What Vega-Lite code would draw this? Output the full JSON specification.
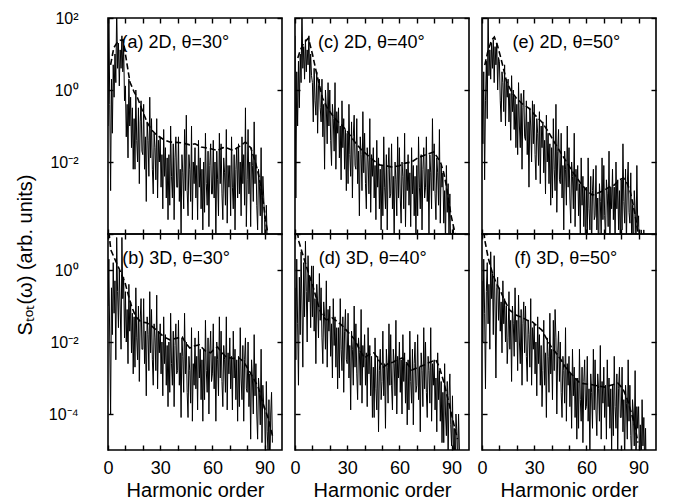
{
"$schema": "https://vega.github.io/schema/vega-lite/v6.json",
"padding": {"left": 15, "top": 9, "right": 5, "bottom": 20},
"title": {"text": "Sₜₒₜ(ω) (arb. units)", "orient": "left", "anchor": "middle", "fontSize": 20, "fontWeight": "normal", "font": "Liberation Sans", "color": "black", "offset": 12},
"datasets": {
"a": [{"x":0,"y":0.1},{"x":0.5,"y":200},{"x":1,"y":0.4},{"x":1.5,"y":1.6e-3},{"x":2,"y":2},{"x":2.5,"y":6.3e-2},{"x":3,"y":5},{"x":3.5,"y":0.63},{"x":4,"y":10},{"x":4.5,"y":1.6},
{"x":5,"y":200},{"x":5.5,"y":4},{"x":6,"y":20},{"x":6.5,"y":1.3},{"x":7,"y":13},{"x":7.5,"y":4},{"x":8,"y":32},{"x":8.5,"y":3.2},{"x":9,"y":16},{"x":9.5,"y":0.5},
{"x":10,"y":1.3},{"x":10.5,"y":5e-2},{"x":11,"y":0.4},{"x":11.5,"y":1.3e-2},{"x":12,"y":2},{"x":12.5,"y":0.1},{"x":13,"y":0.63},{"x":13.5,"y":2.5e-2},{"x":14,"y":0.32},{"x":14.5,"y":6.3e-3},
{"x":15,"y":0.16},{"x":15.5,"y":6.3e-3},{"x":16,"y":1},{"x":16.5,"y":4e-2},{"x":17,"y":1e-2},{"x":17.5,"y":0.32},{"x":18,"y":2.5e-3},{"x":18.5,"y":0.13},{"x":19,"y":0.5},{"x":19.5,"y":2e-2},
{"x":20,"y":1.6e-2},{"x":20.5,"y":0.4},{"x":21,"y":6.3e-3},{"x":21.5,"y":5e-2},{"x":22,"y":8e-4},{"x":22.5,"y":0.13},{"x":23,"y":4e-2},{"x":23.5,"y":4e-3},{"x":24,"y":0.63},{"x":24.5,"y":1.3e-2},
{"x":25,"y":0.16},{"x":25.5,"y":6.3e-3},{"x":26,"y":1.3e-3},{"x":26.5,"y":6.3e-2},{"x":27,"y":2.5e-2},{"x":27.5,"y":3.2e-3},{"x":28,"y":0.16},{"x":28.5,"y":1e-3},{"x":29,"y":4e-2},{"x":29.5,"y":1e-2},
{"x":30,"y":5e-2},{"x":30.5,"y":2e-3},{"x":31,"y":1.6e-2},{"x":31.5,"y":5e-4},{"x":32,"y":8e-2},{"x":32.5,"y":4e-3},{"x":33,"y":2.5e-2},{"x":33.5,"y":1e-3},{"x":34,"y":1.3e-2},{"x":34.5,"y":2.5e-4},
{"x":35,"y":1.6e-2},{"x":35.5,"y":6.3e-4},{"x":36,"y":0.1},{"x":36.5,"y":4e-3},{"x":37,"y":1e-3},{"x":37.5,"y":3.2e-2},{"x":38,"y":2.5e-4},{"x":38.5,"y":1.3e-2},{"x":39,"y":5e-2},{"x":39.5,"y":2e-3},
{"x":40,"y":2e-3},{"x":40.5,"y":5e-2},{"x":41,"y":8e-4},{"x":41.5,"y":6.3e-3},{"x":42,"y":1e-4},{"x":42.5,"y":1.6e-2},{"x":43,"y":5e-3},{"x":43.5,"y":5e-4},{"x":44,"y":8e-2},{"x":44.5,"y":1.6e-3},
{"x":45,"y":0.2},{"x":45.5,"y":1.6e-3},{"x":46,"y":3.2e-4},{"x":46.5,"y":1.6e-2},{"x":47,"y":6.3e-3},{"x":47.5,"y":8e-4},{"x":48,"y":0.1},{"x":48.5,"y":2.5e-4},{"x":49,"y":1e-2},{"x":49.5,"y":2.5e-3},
{"x":50,"y":2.5e-2},{"x":50.5,"y":1e-3},{"x":51,"y":8e-3},{"x":51.5,"y":2.5e-4},{"x":52,"y":4e-2},{"x":52.5,"y":2e-3},{"x":53,"y":1.3e-2},{"x":53.5,"y":5e-4},{"x":54,"y":6.3e-3},{"x":54.5,"y":1.3e-4},
{"x":55,"y":1e-2},{"x":55.5,"y":4e-4},{"x":56,"y":6.3e-2},{"x":56.5,"y":2.5e-3},{"x":57,"y":6.3e-4},{"x":57.5,"y":2e-2},{"x":58,"y":1.6e-4},{"x":58.5,"y":8e-3},{"x":59,"y":3.2e-2},{"x":59.5,"y":1.3e-3},
{"x":60,"y":1.3e-3},{"x":60.5,"y":4e-2},{"x":61,"y":1e-3},{"x":61.5,"y":1e-2},{"x":62,"y":6.3e-5},{"x":62.5,"y":2e-2},{"x":63,"y":3.2e-3},{"x":63.5,"y":3.2e-4},{"x":64,"y":6.3e-2},{"x":64.5,"y":2.5e-3},
{"x":65,"y":3.2e-2},{"x":65.5,"y":1.3e-3},{"x":66,"y":2.5e-4},{"x":66.5,"y":1.3e-2},{"x":67,"y":5e-3},{"x":67.5,"y":6.3e-4},{"x":68,"y":8e-2},{"x":68.5,"y":2e-4},{"x":69,"y":8e-3},{"x":69.5,"y":2e-3},
{"x":70,"y":8e-3},{"x":70.5,"y":3.2e-4},{"x":71,"y":5e-2},{"x":71.5,"y":2e-3},{"x":72,"y":5e-4},{"x":72.5,"y":1.6e-2},{"x":73,"y":1.3e-4},{"x":73.5,"y":6.3e-3},{"x":74,"y":2.5e-2},{"x":74.5,"y":1e-3},
{"x":75,"y":3.2e-2},{"x":75.5,"y":1.3e-3},{"x":76,"y":1e-2},{"x":76.5,"y":3.2e-4},{"x":77,"y":5e-2},{"x":77.5,"y":2.5e-3},{"x":78,"y":1.6e-2},{"x":78.5,"y":6.3e-4},{"x":79,"y":0.32},{"x":79.5,"y":1.6e-4},
{"x":80,"y":3.2e-3},{"x":80.5,"y":8e-2},{"x":81,"y":1.3e-3},{"x":81.5,"y":1e-2},{"x":82,"y":1.6e-4},{"x":82.5,"y":2.5e-2},{"x":83,"y":8e-3},{"x":83.5,"y":8e-4},{"x":84,"y":0.13},{"x":84.5,"y":2.5e-3},
{"x":85,"y":1.6e-2},{"x":85.5,"y":6.3e-4},{"x":86,"y":1.3e-4},{"x":86.5,"y":6.3e-3},{"x":87,"y":2.5e-3},{"x":87.5,"y":3.2e-4},{"x":88,"y":2.5e-2},{"x":88.5,"y":1e-4},{"x":89,"y":4e-3},{"x":89.5,"y":1e-3},
{"x":90,"y":2.5e-4},{"x":90.5,"y":1e-5},{"x":91,"y":6.3e-4},{"x":91.5,"y":6.3e-5},{"x":92,"y":1.6e-5},{"x":92.5,"y":5e-5},{"x":93,"y":4e-6},{"x":93.5,"y":3.2e-5},{"x":94,"y":6.3e-5},{"x":94.5,"y":1e-5}],
"b": [{"x":0,"y":0.1},{"x":0.5,"y":2},{"x":1,"y":1e-2},{"x":1.5,"y":1e-4},{"x":2,"y":0.32},{"x":2.5,"y":1.6e-2},{"x":3,"y":1.6},{"x":3.5,"y":6.3e-2},{"x":4,"y":0.5},{"x":4.5,"y":3.2e-3},
{"x":5,"y":8},{"x":5.5,"y":0.25},{"x":6,"y":2.5e-2},{"x":6.5,"y":1},{"x":7,"y":0.1},{"x":7.5,"y":6.3e-3},{"x":8,"y":8},{"x":8.5,"y":0.16},{"x":9,"y":0.63},{"x":9.5,"y":1.3e-2},
{"x":10,"y":0.25},{"x":10.5,"y":1e-2},{"x":11,"y":8e-2},{"x":11.5,"y":2.5e-3},{"x":12,"y":0.4},{"x":12.5,"y":2e-2},{"x":13,"y":0.13},{"x":13.5,"y":5e-3},{"x":14,"y":6.3e-2},{"x":14.5,"y":1.3e-3},
{"x":15,"y":5e-2},{"x":15.5,"y":2e-3},{"x":16,"y":0.32},{"x":16.5,"y":1.3e-2},{"x":17,"y":3.2e-3},{"x":17.5,"y":0.1},{"x":18,"y":8e-4},{"x":18.5,"y":4e-2},{"x":19,"y":0.16},{"x":19.5,"y":6.3e-3},
{"x":20,"y":6.3e-3},{"x":20.5,"y":0.16},{"x":21,"y":2.5e-3},{"x":21.5,"y":2e-2},{"x":22,"y":3.2e-4},{"x":22.5,"y":5e-2},{"x":23,"y":1.6e-2},{"x":23.5,"y":1.6e-3},{"x":24,"y":0.25},{"x":24.5,"y":5e-3},
{"x":25,"y":8e-2},{"x":25.5,"y":3.2e-3},{"x":26,"y":6.3e-4},{"x":26.5,"y":3.2e-2},{"x":27,"y":1.3e-2},{"x":27.5,"y":1.6e-3},{"x":28,"y":0.2},{"x":28.5,"y":5e-4},{"x":29,"y":2e-2},{"x":29.5,"y":5e-3},
{"x":30,"y":3.2e-2},{"x":30.5,"y":1.3e-3},{"x":31,"y":1e-2},{"x":31.5,"y":3.2e-4},{"x":32,"y":5e-2},{"x":32.5,"y":2.5e-3},{"x":33,"y":1.6e-2},{"x":33.5,"y":6.3e-4},{"x":34,"y":8e-3},{"x":34.5,"y":1.6e-4},
{"x":35,"y":1e-2},{"x":35.5,"y":4e-4},{"x":36,"y":6.3e-2},{"x":36.5,"y":2.5e-3},{"x":37,"y":6.3e-4},{"x":37.5,"y":2e-2},{"x":38,"y":1.6e-4},{"x":38.5,"y":8e-3},{"x":39,"y":3.2e-2},{"x":39.5,"y":1.3e-3},
{"x":40,"y":1.6e-3},{"x":40.5,"y":4e-2},{"x":41,"y":6.3e-4},{"x":41.5,"y":5e-3},{"x":42,"y":8e-5},{"x":42.5,"y":1.3e-2},{"x":43,"y":4e-3},{"x":43.5,"y":4e-4},{"x":44,"y":6.3e-2},{"x":44.5,"y":1.3e-3},
{"x":45,"y":1e-2},{"x":45.5,"y":4e-4},{"x":46,"y":8e-5},{"x":46.5,"y":4e-3},{"x":47,"y":1.6e-3},{"x":47.5,"y":2e-4},{"x":48,"y":2.5e-2},{"x":48.5,"y":6.3e-5},{"x":49,"y":2.5e-3},{"x":49.5,"y":6.3e-4},
{"x":50,"y":1.3e-2},{"x":50.5,"y":5e-4},{"x":51,"y":4e-3},{"x":51.5,"y":1.3e-4},{"x":52,"y":2e-2},{"x":52.5,"y":1e-3},{"x":53,"y":6.3e-3},{"x":53.5,"y":2.5e-4},{"x":54,"y":3.2e-3},{"x":54.5,"y":6.3e-5},
{"x":55,"y":6.3e-3},{"x":55.5,"y":2.5e-4},{"x":56,"y":4e-2},{"x":56.5,"y":1.6e-3},{"x":57,"y":4e-4},{"x":57.5,"y":1.3e-2},{"x":58,"y":1e-4},{"x":58.5,"y":5e-3},{"x":59,"y":2e-2},{"x":59.5,"y":8e-4},
{"x":60,"y":1.3e-3},{"x":60.5,"y":3.2e-2},{"x":61,"y":5e-4},{"x":61.5,"y":4e-3},{"x":62,"y":6.3e-5},{"x":62.5,"y":1e-2},{"x":63,"y":3.2e-3},{"x":63.5,"y":3.2e-4},{"x":64,"y":5e-2},{"x":64.5,"y":1e-3},
{"x":65,"y":2e-2},{"x":65.5,"y":8e-4},{"x":66,"y":1.6e-4},{"x":66.5,"y":8e-3},{"x":67,"y":3.2e-3},{"x":67.5,"y":4e-4},{"x":68,"y":5e-2},{"x":68.5,"y":1.3e-4},{"x":69,"y":5e-3},{"x":69.5,"y":1.3e-3},
{"x":70,"y":1.3e-2},{"x":70.5,"y":5e-4},{"x":71,"y":4e-3},{"x":71.5,"y":1.3e-4},{"x":72,"y":2e-2},{"x":72.5,"y":1e-3},{"x":73,"y":6.3e-3},{"x":73.5,"y":2.5e-4},{"x":74,"y":3.2e-3},{"x":74.5,"y":6.3e-5},
{"x":75,"y":4e-3},{"x":75.5,"y":1.6e-4},{"x":76,"y":2.5e-2},{"x":76.5,"y":1e-3},{"x":77,"y":2.5e-4},{"x":77.5,"y":8e-3},{"x":78,"y":6.3e-5},{"x":78.5,"y":3.2e-3},{"x":79,"y":1.3e-2},{"x":79.5,"y":5e-4},
{"x":80,"y":4e-4},{"x":80.5,"y":1e-2},{"x":81,"y":1.6e-4},{"x":81.5,"y":1.3e-3},{"x":82,"y":2e-5},{"x":82.5,"y":3.2e-3},{"x":83,"y":1e-3},{"x":83.5,"y":1e-4},{"x":84,"y":1.6e-2},{"x":84.5,"y":3.2e-4},
{"x":85,"y":2.5e-3},{"x":85.5,"y":1e-4},{"x":86,"y":2e-5},{"x":86.5,"y":1e-3},{"x":87,"y":4e-4},{"x":87.5,"y":5e-5},{"x":88,"y":6.3e-3},{"x":88.5,"y":1.6e-5},{"x":89,"y":6.3e-4},{"x":89.5,"y":1.6e-4},
{"x":90,"y":1.3e-4},{"x":90.5,"y":5e-6},{"x":91,"y":8e-4},{"x":91.5,"y":3.2e-5},{"x":92,"y":8e-6},{"x":92.5,"y":2.5e-4},{"x":93,"y":2e-6},{"x":93.5,"y":1e-4},{"x":94,"y":4e-4},{"x":94.5,"y":1.6e-5}],
"c": [{"x":0,"y":32},{"x":0.5,"y":1e-3},{"x":1,"y":3.2},{"x":1.5,"y":0.1},{"x":2,"y":6.3},{"x":2.5,"y":0.32},{"x":3,"y":10},{"x":3.5,"y":1.6},{"x":4,"y":200},{"x":4.5,"y":4},
{"x":5,"y":16},{"x":5.5,"y":2},{"x":6,"y":25},{"x":6.5,"y":3.2},{"x":7,"y":13},{"x":7.5,"y":5},{"x":8,"y":32},{"x":8.5,"y":1.6},{"x":9,"y":10},{"x":9.5,"y":2.5},
{"x":10,"y":1.6},{"x":10.5,"y":0.13},{"x":11,"y":4},{"x":11.5,"y":0.5},{"x":12,"y":0.2},{"x":12.5,"y":3.2},{"x":13,"y":6.3e-2},{"x":13.5,"y":1.3},{"x":14,"y":2},{"x":14.5,"y":0.32},
{"x":15,"y":0.13},{"x":15.5,"y":2},{"x":16,"y":5e-2},{"x":16.5,"y":0.4},{"x":17,"y":6.3e-3},{"x":17.5,"y":1},{"x":18,"y":0.32},{"x":18.5,"y":3.2e-2},{"x":19,"y":1.6},{"x":19.5,"y":0.1},
{"x":20,"y":1},{"x":20.5,"y":4e-2},{"x":21,"y":8e-3},{"x":21.5,"y":0.4},{"x":22,"y":0.16},{"x":22.5,"y":2e-2},{"x":23,"y":1.6},{"x":23.5,"y":6.3e-3},{"x":24,"y":0.25},{"x":24.5,"y":6.3e-2},
{"x":25,"y":0.32},{"x":25.5,"y":1.3e-2},{"x":26,"y":0.1},{"x":26.5,"y":3.2e-3},{"x":27,"y":0.5},{"x":27.5,"y":2.5e-2},{"x":28,"y":0.16},{"x":28.5,"y":6.3e-3},{"x":29,"y":8e-2},{"x":29.5,"y":1.6e-3},
{"x":30,"y":6.3e-2},{"x":30.5,"y":2.5e-3},{"x":31,"y":0.4},{"x":31.5,"y":1.6e-2},{"x":32,"y":4e-3},{"x":32.5,"y":0.13},{"x":33,"y":1e-3},{"x":33.5,"y":5e-2},{"x":34,"y":0.2},{"x":34.5,"y":8e-3},
{"x":35,"y":6.3e-3},{"x":35.5,"y":0.16},{"x":36,"y":2.5e-3},{"x":36.5,"y":2e-2},{"x":37,"y":3.2e-4},{"x":37.5,"y":5e-2},{"x":38,"y":1.6e-2},{"x":38.5,"y":1.6e-3},{"x":39,"y":0.25},{"x":39.5,"y":5e-3},
{"x":40,"y":6.3e-2},{"x":40.5,"y":2.5e-3},{"x":41,"y":5e-4},{"x":41.5,"y":2.5e-2},{"x":42,"y":1e-2},{"x":42.5,"y":1.3e-3},{"x":43,"y":0.16},{"x":43.5,"y":4e-4},{"x":44,"y":1.6e-2},{"x":44.5,"y":4e-3},
{"x":45,"y":2.5e-2},{"x":45.5,"y":1e-3},{"x":46,"y":8e-3},{"x":46.5,"y":2.5e-4},{"x":47,"y":4e-2},{"x":47.5,"y":2e-3},{"x":48,"y":1.3e-2},{"x":48.5,"y":5e-4},{"x":49,"y":6.3e-3},{"x":49.5,"y":1.3e-4},
{"x":50,"y":8e-3},{"x":50.5,"y":3.2e-4},{"x":51,"y":5e-2},{"x":51.5,"y":2e-3},{"x":52,"y":5e-4},{"x":52.5,"y":1.6e-2},{"x":53,"y":1.3e-4},{"x":53.5,"y":6.3e-3},{"x":54,"y":2.5e-2},{"x":54.5,"y":1e-3},
{"x":55,"y":1.3e-3},{"x":55.5,"y":3.2e-2},{"x":56,"y":5e-4},{"x":56.5,"y":4e-3},{"x":57,"y":6.3e-5},{"x":57.5,"y":1e-2},{"x":58,"y":3.2e-3},{"x":58.5,"y":3.2e-4},{"x":59,"y":5e-2},{"x":59.5,"y":1e-3},
{"x":60,"y":2.5e-2},{"x":60.5,"y":1e-3},{"x":61,"y":2e-4},{"x":61.5,"y":1e-2},{"x":62,"y":4e-3},{"x":62.5,"y":5e-4},{"x":63,"y":6.3e-2},{"x":63.5,"y":1.6e-4},{"x":64,"y":6.3e-3},{"x":64.5,"y":1.6e-3},
{"x":65,"y":1.6e-2},{"x":65.5,"y":6.3e-4},{"x":66,"y":5e-3},{"x":66.5,"y":1.6e-4},{"x":67,"y":2.5e-2},{"x":67.5,"y":1.3e-3},{"x":68,"y":8e-3},{"x":68.5,"y":3.2e-4},{"x":69,"y":4e-3},{"x":69.5,"y":8e-5},
{"x":70,"y":8e-3},{"x":70.5,"y":3.2e-4},{"x":71,"y":5e-2},{"x":71.5,"y":2e-3},{"x":72,"y":5e-4},{"x":72.5,"y":1.6e-2},{"x":73,"y":1.3e-4},{"x":73.5,"y":6.3e-3},{"x":74,"y":2.5e-2},{"x":74.5,"y":1e-3},
{"x":75,"y":2e-3},{"x":75.5,"y":5e-2},{"x":76,"y":8e-4},{"x":76.5,"y":6.3e-3},{"x":77,"y":1e-4},{"x":77.5,"y":1.6e-2},{"x":78,"y":5e-3},{"x":78.5,"y":5e-4},{"x":79,"y":0.16},{"x":79.5,"y":1.6e-3},
{"x":80,"y":3.2e-2},{"x":80.5,"y":1.3e-3},{"x":81,"y":2.5e-4},{"x":81.5,"y":1.3e-2},{"x":82,"y":5e-3},{"x":82.5,"y":6.3e-4},{"x":83,"y":8e-2},{"x":83.5,"y":2e-4},{"x":84,"y":8e-3},{"x":84.5,"y":2e-3},
{"x":85,"y":5e-3},{"x":85.5,"y":2e-4},{"x":86,"y":1.6e-3},{"x":86.5,"y":5e-5},{"x":87,"y":8e-3},{"x":87.5,"y":4e-4},{"x":88,"y":2.5e-3},{"x":88.5,"y":1e-4},{"x":89,"y":1.3e-3},{"x":89.5,"y":2.5e-5},
{"x":90,"y":6.3e-5},{"x":90.5,"y":2.5e-6},{"x":91,"y":1.6e-4},{"x":91.5,"y":1.6e-5},{"x":92,"y":4e-6},{"x":92.5,"y":3.2e-5},{"x":93,"y":1e-6},{"x":93.5,"y":1e-5},{"x":94,"y":2e-5},{"x":94.5,"y":3.2e-6}],
"d": [{"x":0,"y":0.32},{"x":0.5,"y":3.2e-3},{"x":1,"y":2},{"x":1.5,"y":3.2e-2},{"x":2,"y":6.3e-4},{"x":2.5,"y":0.63},{"x":3,"y":1.6e-2},{"x":3.5,"y":3.2},{"x":4,"y":0.1},{"x":4.5,"y":2e-3},
{"x":5,"y":1.6},{"x":5.5,"y":5e-2},{"x":6,"y":6.3},{"x":6.5,"y":0.25},{"x":7,"y":1e-2},{"x":7.5,"y":2.5},{"x":8,"y":0.13},{"x":8.5,"y":0.63},{"x":9,"y":2.5e-2},{"x":9.5,"y":1.3},
{"x":10,"y":5e-2},{"x":10.5,"y":1.3},{"x":11,"y":2e-2},{"x":11.5,"y":0.16},{"x":12,"y":2.5e-3},{"x":12.5,"y":0.4},{"x":13,"y":0.13},{"x":13.5,"y":1.3e-2},{"x":14,"y":0.8},{"x":14.5,"y":4e-2},
{"x":15,"y":0.32},{"x":15.5,"y":1.3e-2},{"x":16,"y":2.5e-3},{"x":16.5,"y":0.13},{"x":17,"y":5e-2},{"x":17.5,"y":6.3e-3},{"x":18,"y":0.5},{"x":18.5,"y":2e-3},{"x":19,"y":8e-2},{"x":19.5,"y":2e-2},
{"x":20,"y":0.1},{"x":20.5,"y":4e-3},{"x":21,"y":3.2e-2},{"x":21.5,"y":1e-3},{"x":22,"y":0.16},{"x":22.5,"y":8e-3},{"x":23,"y":5e-2},{"x":23.5,"y":2e-3},{"x":24,"y":2.5e-2},{"x":24.5,"y":5e-4},
{"x":25,"y":2.5e-2},{"x":25.5,"y":1e-3},{"x":26,"y":0.16},{"x":26.5,"y":6.3e-3},{"x":27,"y":1.6e-3},{"x":27.5,"y":5e-2},{"x":28,"y":4e-4},{"x":28.5,"y":2e-2},{"x":29,"y":8e-2},{"x":29.5,"y":3.2e-3},
{"x":30,"y":2.5e-3},{"x":30.5,"y":6.3e-2},{"x":31,"y":1e-3},{"x":31.5,"y":8e-3},{"x":32,"y":1.3e-4},{"x":32.5,"y":2e-2},{"x":33,"y":6.3e-3},{"x":33.5,"y":6.3e-4},{"x":34,"y":0.1},{"x":34.5,"y":2e-3},
{"x":35,"y":3.2e-2},{"x":35.5,"y":1.3e-3},{"x":36,"y":2.5e-4},{"x":36.5,"y":1.3e-2},{"x":37,"y":5e-3},{"x":37.5,"y":6.3e-4},{"x":38,"y":8e-2},{"x":38.5,"y":2e-4},{"x":39,"y":8e-3},{"x":39.5,"y":2e-3},
{"x":40,"y":1.6e-2},{"x":40.5,"y":6.3e-4},{"x":41,"y":5e-3},{"x":41.5,"y":1.6e-4},{"x":42,"y":2.5e-2},{"x":42.5,"y":1.3e-3},{"x":43,"y":8e-3},{"x":43.5,"y":3.2e-4},{"x":44,"y":4e-3},{"x":44.5,"y":8e-5},
{"x":45,"y":2e-3},{"x":45.5,"y":8e-5},{"x":46,"y":1.3e-2},{"x":46.5,"y":5e-4},{"x":47,"y":1.3e-4},{"x":47.5,"y":4e-3},{"x":48,"y":3.2e-5},{"x":48.5,"y":1.6e-3},{"x":49,"y":6.3e-3},{"x":49.5,"y":2.5e-4},
{"x":50,"y":8e-4},{"x":50.5,"y":2e-2},{"x":51,"y":3.2e-4},{"x":51.5,"y":2.5e-3},{"x":52,"y":4e-5},{"x":52.5,"y":6.3e-3},{"x":53,"y":2e-3},{"x":53.5,"y":2e-4},{"x":54,"y":3.2e-2},{"x":54.5,"y":6.3e-4},
{"x":55,"y":1.6e-2},{"x":55.5,"y":6.3e-4},{"x":56,"y":1.3e-4},{"x":56.5,"y":6.3e-3},{"x":57,"y":2.5e-3},{"x":57.5,"y":3.2e-4},{"x":58,"y":4e-2},{"x":58.5,"y":1e-4},{"x":59,"y":4e-3},{"x":59.5,"y":1e-3},
{"x":60,"y":1e-2},{"x":60.5,"y":4e-4},{"x":61,"y":3.2e-3},{"x":61.5,"y":1e-4},{"x":62,"y":1.6e-2},{"x":62.5,"y":8e-4},{"x":63,"y":5e-3},{"x":63.5,"y":2e-4},{"x":64,"y":2.5e-3},{"x":64.5,"y":5e-5},
{"x":65,"y":3.2e-3},{"x":65.5,"y":1.3e-4},{"x":66,"y":2e-2},{"x":66.5,"y":8e-4},{"x":67,"y":2e-4},{"x":67.5,"y":6.3e-3},{"x":68,"y":5e-5},{"x":68.5,"y":2.5e-3},{"x":69,"y":1e-2},{"x":69.5,"y":4e-4},
{"x":70,"y":6.3e-4},{"x":70.5,"y":1.6e-2},{"x":71,"y":2.5e-4},{"x":71.5,"y":2e-3},{"x":72,"y":3.2e-5},{"x":72.5,"y":5e-3},{"x":73,"y":1.6e-3},{"x":73.5,"y":1.6e-4},{"x":74,"y":2.5e-2},{"x":74.5,"y":5e-4},
{"x":75,"y":1e-2},{"x":75.5,"y":4e-4},{"x":76,"y":8e-5},{"x":76.5,"y":4e-3},{"x":77,"y":1.6e-3},{"x":77.5,"y":2e-4},{"x":78,"y":2.5e-2},{"x":78.5,"y":6.3e-5},{"x":79,"y":2.5e-3},{"x":79.5,"y":6.3e-4},
{"x":80,"y":3.2e-3},{"x":80.5,"y":1.3e-4},{"x":81,"y":1e-3},{"x":81.5,"y":3.2e-5},{"x":82,"y":5e-3},{"x":82.5,"y":2.5e-4},{"x":83,"y":1.6e-3},{"x":83.5,"y":6.3e-5},{"x":84,"y":8e-4},{"x":84.5,"y":1.6e-5},
{"x":85,"y":4e-4},{"x":85.5,"y":1.6e-5},{"x":86,"y":2.5e-3},{"x":86.5,"y":1e-4},{"x":87,"y":2.5e-5},{"x":87.5,"y":8e-4},{"x":88,"y":6.3e-6},{"x":88.5,"y":3.2e-4},{"x":89,"y":1.3e-3},{"x":89.5,"y":5e-5},
{"x":90,"y":1.3e-5},{"x":90.5,"y":3.2e-4},{"x":91,"y":5e-6},{"x":91.5,"y":4e-5},{"x":92,"y":6.3e-7},{"x":92.5,"y":1e-4},{"x":93,"y":3.2e-5},{"x":93.5,"y":3.2e-6},{"x":94,"y":1e-4},{"x":94.5,"y":1e-5}],
"e": [{"x":0,"y":1},{"x":0.5,"y":3.2e-2},{"x":1,"y":3.2},{"x":1.5,"y":3.2e-3},{"x":2,"y":0.5},{"x":2.5,"y":6.3},{"x":3,"y":0.16},{"x":3.5,"y":200},{"x":4,"y":2.5},{"x":4.5,"y":13},
{"x":5,"y":2},{"x":5.5,"y":20},{"x":6,"y":4},{"x":6.5,"y":25},{"x":7,"y":1.6},{"x":7.5,"y":16},{"x":8,"y":5},{"x":8.5,"y":20},{"x":9,"y":1},{"x":9.5,"y":8},
{"x":10,"y":6.3},{"x":10.5,"y":0.5},{"x":11,"y":0.13},{"x":11.5,"y":3.2},{"x":12,"y":1.6},{"x":12.5,"y":0.25},{"x":13,"y":5},{"x":13.5,"y":0.1},{"x":14,"y":2},{"x":14.5,"y":0.63},
{"x":15,"y":2},{"x":15.5,"y":0.13},{"x":16,"y":0.8},{"x":16.5,"y":4e-2},{"x":17,"y":2.5},{"x":17.5,"y":0.25},{"x":18,"y":1},{"x":18.5,"y":8e-2},{"x":19,"y":0.63},{"x":19.5,"y":2.5e-2},
{"x":20,"y":0.4},{"x":20.5,"y":1.6e-2},{"x":21,"y":1.6},{"x":21.5,"y":0.1},{"x":22,"y":2.5e-2},{"x":22.5,"y":0.8},{"x":23,"y":6.3e-3},{"x":23.5,"y":0.32},{"x":24,"y":1},{"x":24.5,"y":5e-2},
{"x":25,"y":4e-2},{"x":25.5,"y":0.5},{"x":26,"y":1.6e-2},{"x":26.5,"y":0.13},{"x":27,"y":2e-3},{"x":27.5,"y":0.32},{"x":28,"y":0.1},{"x":28.5,"y":1e-2},{"x":29,"y":0.5},{"x":29.5,"y":3.2e-2},
{"x":30,"y":0.4},{"x":30.5,"y":1.6e-2},{"x":31,"y":3.2e-3},{"x":31.5,"y":0.16},{"x":32,"y":6.3e-2},{"x":32.5,"y":8e-3},{"x":33,"y":0.25},{"x":33.5,"y":2.5e-3},{"x":34,"y":0.1},{"x":34.5,"y":2.5e-2},
{"x":35,"y":0.13},{"x":35.5,"y":5e-3},{"x":36,"y":4e-2},{"x":36.5,"y":1.3e-3},{"x":37,"y":0.2},{"x":37.5,"y":1e-2},{"x":38,"y":6.3e-2},{"x":38.5,"y":2.5e-3},{"x":39,"y":3.2e-2},{"x":39.5,"y":6.3e-4},
{"x":40,"y":2.5e-2},{"x":40.5,"y":1e-3},{"x":41,"y":0.16},{"x":41.5,"y":6.3e-3},{"x":42,"y":1.6e-3},{"x":42.5,"y":0.4},{"x":43,"y":4e-4},{"x":43.5,"y":2e-2},{"x":44,"y":8e-2},{"x":44.5,"y":3.2e-3},
{"x":45,"y":2.5e-3},{"x":45.5,"y":6.3e-2},{"x":46,"y":1e-3},{"x":46.5,"y":8e-3},{"x":47,"y":1.3e-4},{"x":47.5,"y":2e-2},{"x":48,"y":6.3e-3},{"x":48.5,"y":6.3e-4},{"x":49,"y":0.1},{"x":49.5,"y":2e-3},
{"x":50,"y":2.5e-2},{"x":50.5,"y":1e-3},{"x":51,"y":2e-4},{"x":51.5,"y":1e-2},{"x":52,"y":4e-3},{"x":52.5,"y":5e-4},{"x":53,"y":6.3e-2},{"x":53.5,"y":1.6e-4},{"x":54,"y":6.3e-3},{"x":54.5,"y":1.6e-3},
{"x":55,"y":8e-3},{"x":55.5,"y":3.2e-4},{"x":56,"y":2.5e-3},{"x":56.5,"y":8e-5},{"x":57,"y":1.3e-2},{"x":57.5,"y":6.3e-4},{"x":58,"y":4e-3},{"x":58.5,"y":1.6e-4},{"x":59,"y":2e-3},{"x":59.5,"y":4e-5},
{"x":60,"y":2e-3},{"x":60.5,"y":8e-5},{"x":61,"y":1.3e-2},{"x":61.5,"y":5e-4},{"x":62,"y":1.3e-4},{"x":62.5,"y":4e-3},{"x":63,"y":3.2e-5},{"x":63.5,"y":1.6e-3},{"x":64,"y":6.3e-3},{"x":64.5,"y":2.5e-4},
{"x":65,"y":3.2e-4},{"x":65.5,"y":8e-3},{"x":66,"y":1.3e-4},{"x":66.5,"y":1e-3},{"x":67,"y":1.6e-5},{"x":67.5,"y":2.5e-3},{"x":68,"y":8e-4},{"x":68.5,"y":8e-5},{"x":69,"y":1.3e-2},{"x":69.5,"y":2.5e-4},
{"x":70,"y":8e-3},{"x":70.5,"y":3.2e-4},{"x":71,"y":6.3e-5},{"x":71.5,"y":3.2e-3},{"x":72,"y":1.3e-3},{"x":72.5,"y":1.6e-4},{"x":73,"y":2e-2},{"x":73.5,"y":5e-5},{"x":74,"y":2e-3},{"x":74.5,"y":5e-4},
{"x":75,"y":6.3e-3},{"x":75.5,"y":2.5e-4},{"x":76,"y":2e-3},{"x":76.5,"y":6.3e-5},{"x":77,"y":1e-2},{"x":77.5,"y":5e-4},{"x":78,"y":3.2e-3},{"x":78.5,"y":1.3e-4},{"x":79,"y":1.6e-3},{"x":79.5,"y":3.2e-5},
{"x":80,"y":3.2e-3},{"x":80.5,"y":1.3e-4},{"x":81,"y":3.2e-2},{"x":81.5,"y":8e-4},{"x":82,"y":2e-4},{"x":82.5,"y":6.3e-3},{"x":83,"y":5e-5},{"x":83.5,"y":2.5e-3},{"x":84,"y":1e-2},{"x":84.5,"y":4e-4},
{"x":85,"y":2e-4},{"x":85.5,"y":5e-3},{"x":86,"y":8e-5},{"x":86.5,"y":6.3e-4},{"x":87,"y":1e-5},{"x":87.5,"y":1.6e-3},{"x":88,"y":5e-4},{"x":88.5,"y":5e-5},{"x":89,"y":8e-3},{"x":89.5,"y":1.6e-4},
{"x":90,"y":3.2e-4},{"x":90.5,"y":1.3e-5},{"x":91,"y":2.5e-6},{"x":91.5,"y":1.3e-4},{"x":92,"y":5e-5},{"x":92.5,"y":6.3e-6},{"x":93,"y":1.3e-4},{"x":93.5,"y":2e-6},{"x":94,"y":8e-5},{"x":94.5,"y":2e-5}],
"f": [{"x":0,"y":0.5},{"x":0.5,"y":1e-2},{"x":1,"y":2},{"x":1.5,"y":6.3e-2},{"x":2,"y":5e-4},{"x":2.5,"y":0.25},{"x":3,"y":1.6},{"x":3.5,"y":3.2e-2},{"x":4,"y":0.4},{"x":4.5,"y":6.3e-3},
{"x":5,"y":3.2},{"x":5.5,"y":0.16},{"x":6,"y":0.8},{"x":6.5,"y":1.6e-2},{"x":7,"y":2.5},{"x":7.5,"y":0.1},{"x":8,"y":1e-3},{"x":8.5,"y":0.32},{"x":9,"y":0.63},{"x":9.5,"y":4e-2},
{"x":10,"y":0.32},{"x":10.5,"y":2e-2},{"x":11,"y":0.13},{"x":11.5,"y":5e-3},{"x":12,"y":0.5},{"x":12.5,"y":3.2e-2},{"x":13,"y":0.16},{"x":13.5,"y":1e-2},{"x":14,"y":0.1},{"x":14.5,"y":2.5e-3},
{"x":15,"y":1.3e-2},{"x":15.5,"y":0.25},{"x":16,"y":6.3e-3},{"x":16.5,"y":4e-2},{"x":17,"y":8e-4},{"x":17.5,"y":0.1},{"x":18,"y":3.2e-2},{"x":18.5,"y":4e-3},{"x":19,"y":0.32},{"x":19.5,"y":1e-2},
{"x":20,"y":4e-2},{"x":20.5,"y":1.6e-3},{"x":21,"y":0.2},{"x":21.5,"y":1e-2},{"x":22,"y":2.5e-3},{"x":22.5,"y":8e-2},{"x":23,"y":6.3e-4},{"x":23.5,"y":3.2e-2},{"x":24,"y":0.13},{"x":24.5,"y":5e-3},
{"x":25,"y":0.1},{"x":25.5,"y":4e-3},{"x":26,"y":8e-4},{"x":26.5,"y":4e-2},{"x":27,"y":1.6e-2},{"x":27.5,"y":2e-3},{"x":28,"y":0.16},{"x":28.5,"y":6.3e-4},{"x":29,"y":2.5e-2},{"x":29.5,"y":6.3e-3},
{"x":30,"y":3.2e-2},{"x":30.5,"y":1.3e-3},{"x":31,"y":1e-2},{"x":31.5,"y":3.2e-4},{"x":32,"y":5e-2},{"x":32.5,"y":2.5e-3},{"x":33,"y":1.6e-2},{"x":33.5,"y":6.3e-4},{"x":34,"y":8e-3},{"x":34.5,"y":1.6e-4},
{"x":35,"y":1.6e-3},{"x":35.5,"y":4e-2},{"x":36,"y":6.3e-4},{"x":36.5,"y":5e-3},{"x":37,"y":8e-5},{"x":37.5,"y":1.3e-2},{"x":38,"y":4e-3},{"x":38.5,"y":4e-4},{"x":39,"y":6.3e-2},{"x":39.5,"y":1.3e-3},
{"x":40,"y":6.3e-3},{"x":40.5,"y":2.5e-4},{"x":41,"y":4e-2},{"x":41.5,"y":1.6e-3},{"x":42,"y":8e-2},{"x":42.5,"y":1.3e-2},{"x":43,"y":1e-4},{"x":43.5,"y":5e-3},{"x":44,"y":2e-2},{"x":44.5,"y":8e-4},
{"x":45,"y":1e-2},{"x":45.5,"y":4e-4},{"x":46,"y":8e-5},{"x":46.5,"y":4e-3},{"x":47,"y":1.6e-3},{"x":47.5,"y":2e-4},{"x":48,"y":2.5e-2},{"x":48.5,"y":6.3e-5},{"x":49,"y":2.5e-3},{"x":49.5,"y":6.3e-4},
{"x":50,"y":4e-3},{"x":50.5,"y":1.6e-4},{"x":51,"y":1.3e-3},{"x":51.5,"y":4e-5},{"x":52,"y":6.3e-3},{"x":52.5,"y":3.2e-4},{"x":53,"y":2e-3},{"x":53.5,"y":8e-5},{"x":54,"y":1e-3},{"x":54.5,"y":2e-5},
{"x":55,"y":1e-3},{"x":55.5,"y":4e-5},{"x":56,"y":6.3e-3},{"x":56.5,"y":2.5e-4},{"x":57,"y":6.3e-5},{"x":57.5,"y":2e-3},{"x":58,"y":1.6e-5},{"x":58.5,"y":8e-4},{"x":59,"y":3.2e-3},{"x":59.5,"y":1.3e-4},
{"x":60,"y":1.6e-4},{"x":60.5,"y":4e-3},{"x":61,"y":6.3e-5},{"x":61.5,"y":5e-4},{"x":62,"y":8e-6},{"x":62.5,"y":1.3e-3},{"x":63,"y":4e-4},{"x":63.5,"y":4e-5},{"x":64,"y":6.3e-3},{"x":64.5,"y":1.3e-4},
{"x":65,"y":3.2e-3},{"x":65.5,"y":1.3e-4},{"x":66,"y":2.5e-5},{"x":66.5,"y":1.3e-3},{"x":67,"y":5e-4},{"x":67.5,"y":6.3e-5},{"x":68,"y":8e-3},{"x":68.5,"y":2e-5},{"x":69,"y":8e-4},{"x":69.5,"y":2e-4},
{"x":70,"y":2e-3},{"x":70.5,"y":8e-5},{"x":71,"y":6.3e-4},{"x":71.5,"y":2e-5},{"x":72,"y":3.2e-3},{"x":72.5,"y":1.6e-4},{"x":73,"y":1e-3},{"x":73.5,"y":4e-5},{"x":74,"y":5e-4},{"x":74.5,"y":1e-5},
{"x":75,"y":6.3e-4},{"x":75.5,"y":2.5e-5},{"x":76,"y":4e-3},{"x":76.5,"y":1.6e-4},{"x":77,"y":4e-5},{"x":77.5,"y":1.3e-3},{"x":78,"y":1e-5},{"x":78.5,"y":5e-4},{"x":79,"y":2e-3},{"x":79.5,"y":8e-5},
{"x":80,"y":8e-5},{"x":80.5,"y":2e-3},{"x":81,"y":3.2e-5},{"x":81.5,"y":2.5e-4},{"x":82,"y":4e-6},{"x":82.5,"y":6.3e-4},{"x":83,"y":2e-4},{"x":83.5,"y":2e-5},{"x":84,"y":3.2e-3},{"x":84.5,"y":6.3e-5},
{"x":85,"y":6.3e-4},{"x":85.5,"y":2.5e-5},{"x":86,"y":5e-6},{"x":86.5,"y":2.5e-4},{"x":87,"y":1e-4},{"x":87.5,"y":1.3e-5},{"x":88,"y":1.6e-3},{"x":88.5,"y":4e-6},{"x":89,"y":1.6e-4},{"x":89.5,"y":4e-5},
{"x":90,"y":1.6e-4},{"x":90.5,"y":6.3e-6},{"x":91,"y":5e-5},{"x":91.5,"y":1.6e-6},{"x":92,"y":2.5e-4},{"x":92.5,"y":1.3e-5},{"x":93,"y":8e-5},{"x":93.5,"y":3.2e-6},{"x":94,"y":4e-5},{"x":94.5,"y":8e-7}],
"da": [{"x":1.5,"y":5},{"x":3.3,"y":14.8},{"x":5,"y":20},{"x":7,"y":24},{"x":8.7,"y":24.5},{"x":10,"y":10},{"x":12.6,"y":1.66},{"x":15,"y":0.89},{"x":17,"y":0.6},{"x":20,"y":0.25},{"x":22.4,"y":0.129},{"x":25,"y":0.079},{"x":28,"y":0.056},{"x":32,"y":0.042},{"x":35.5,"y":0.036},{"x":39,"y":0.035},{"x":42.6,"y":0.034},{"x":47,"y":0.03},{"x":50,"y":0.032},{"x":53.6,"y":0.026},{"x":58,"y":0.024},{"x":63,"y":0.021},{"x":66,"y":0.025},{"x":68.3,"y":0.0245},{"x":72,"y":0.021},{"x":76,"y":0.028},{"x":79,"y":0.036},{"x":82,"y":0.025},{"x":84.7,"y":0.01},{"x":86.5,"y":0.0045},{"x":88,"y":0.0019},{"x":89.5,"y":0.00063},{"x":90.7,"y":0.00021},{"x":91.8,"y":0.00011},{"x":93,"y":0.00004}],
"db": [{"x":0,"y":20},{"x":1.6,"y":3.63},{"x":3.5,"y":2.24},{"x":6,"y":1.2},{"x":8,"y":0.71},{"x":9.8,"y":0.44},{"x":12,"y":0.178},{"x":13.7,"y":0.093},{"x":16,"y":0.05},{"x":19,"y":0.036},{"x":22.4,"y":0.034},{"x":25,"y":0.028},{"x":28,"y":0.021},{"x":32,"y":0.014},{"x":35.5,"y":0.0115},{"x":39,"y":0.0126},{"x":42.6,"y":0.0138},{"x":45,"y":0.0089},{"x":47,"y":0.0068},{"x":50,"y":0.0079},{"x":52.5,"y":0.0083},{"x":56,"y":0.0056},{"x":59,"y":0.005},{"x":61,"y":0.0063},{"x":63,"y":0.0072},{"x":65.5,"y":0.005},{"x":68,"y":0.0038},{"x":72,"y":0.0035},{"x":75.4,"y":0.0036},{"x":78,"y":0.0028},{"x":80.9,"y":0.00166},{"x":83.5,"y":0.001},{"x":86.3,"y":0.00056},{"x":89,"y":0.0002},{"x":91.8,"y":0.000083},{"x":94.5,"y":0.000025}],
"dc": [{"x":1.6,"y":7.8},{"x":3,"y":12.6},{"x":5,"y":20},{"x":7.7,"y":27.5},{"x":10,"y":10},{"x":12.6,"y":2.63},{"x":15.8,"y":0.6},{"x":18.5,"y":0.32},{"x":21.3,"y":0.204},{"x":24,"y":0.141},{"x":26.8,"y":0.107},{"x":30,"y":0.071},{"x":34.4,"y":0.036},{"x":38,"y":0.0224},{"x":41.5,"y":0.0158},{"x":45,"y":0.0112},{"x":48.6,"y":0.0083},{"x":52,"y":0.0079},{"x":56,"y":0.0072},{"x":60,"y":0.0079},{"x":63.4,"y":0.0093},{"x":67,"y":0.01},{"x":70.5,"y":0.0129},{"x":75,"y":0.0158},{"x":79.8,"y":0.019},{"x":83.6,"y":0.01},{"x":85.5,"y":0.005},{"x":86.9,"y":0.0023},{"x":88.3,"y":0.00089},{"x":89.6,"y":0.00034},{"x":91.8,"y":0.000115},{"x":93,"y":0.00005}],
"dd": [{"x":0.5,"y":20},{"x":2.2,"y":6.3},{"x":4,"y":3.16},{"x":6,"y":1.55},{"x":8,"y":0.76},{"x":10.4,"y":0.34},{"x":12.5,"y":0.151},{"x":14.2,"y":0.078},{"x":16,"y":0.05},{"x":18,"y":0.041},{"x":21.3,"y":0.047},{"x":24,"y":0.038},{"x":26.8,"y":0.0295},{"x":30,"y":0.02},{"x":34.4,"y":0.0115},{"x":37,"y":0.0063},{"x":39.9,"y":0.0036},{"x":42.5,"y":0.0045},{"x":45.4,"y":0.005},{"x":48,"y":0.0032},{"x":50.8,"y":0.002},{"x":53.5,"y":0.0025},{"x":56.3,"y":0.00275},{"x":59,"y":0.0033},{"x":61.7,"y":0.0036},{"x":64.5,"y":0.0025},{"x":67.2,"y":0.00166},{"x":71,"y":0.002},{"x":74.3,"y":0.0023},{"x":78,"y":0.0028},{"x":80.9,"y":0.0032},{"x":83,"y":0.002},{"x":85.2,"y":0.00087},{"x":88,"y":0.00025},{"x":90.7,"y":0.000068},{"x":93.4,"y":0.00002}],
"de": [{"x":1.6,"y":4.9},{"x":3.5,"y":12.6},{"x":5.5,"y":24},{"x":7.1,"y":29.5},{"x":8.8,"y":17.8},{"x":10.4,"y":9.3},{"x":12.3,"y":4},{"x":14.2,"y":1.66},{"x":17,"y":0.89},{"x":19.7,"y":0.6},{"x":23,"y":0.42},{"x":26.8,"y":0.316},{"x":30.5,"y":0.2},{"x":34.4,"y":0.129},{"x":38,"y":0.071},{"x":41.5,"y":0.036},{"x":45,"y":0.019},{"x":48.6,"y":0.01},{"x":52.5,"y":0.005},{"x":56.3,"y":0.00275},{"x":60,"y":0.00166},{"x":63.4,"y":0.0012},{"x":67,"y":0.0014},{"x":70.5,"y":0.00166},{"x":73,"y":0.002},{"x":76,"y":0.0023},{"x":79,"y":0.0032},{"x":81.4,"y":0.0036},{"x":83.5,"y":0.0025},{"x":85.2,"y":0.0015},{"x":86.7,"y":0.0007},{"x":88,"y":0.00034},{"x":89.6,"y":0.000115},{"x":91,"y":0.00005}],
"df": [{"x":0.5,"y":20},{"x":1.6,"y":6.8},{"x":3.5,"y":2.24},{"x":6,"y":0.83},{"x":8,"y":0.45},{"x":10.4,"y":0.275},{"x":13,"y":0.141},{"x":15.8,"y":0.078},{"x":19.5,"y":0.056},{"x":23.5,"y":0.047},{"x":26,"y":0.04},{"x":29,"y":0.036},{"x":31.5,"y":0.028},{"x":34.4,"y":0.0214},{"x":37,"y":0.0126},{"x":39.9,"y":0.0072},{"x":42.5,"y":0.005},{"x":45.4,"y":0.0032},{"x":48,"y":0.002},{"x":50.8,"y":0.00138},{"x":53.5,"y":0.001},{"x":56.3,"y":0.00072},{"x":60,"y":0.00068},{"x":63.4,"y":0.00065},{"x":67,"y":0.0006},{"x":70.5,"y":0.00056},{"x":74,"y":0.00063},{"x":78.1,"y":0.00072},{"x":81,"y":0.0005},{"x":83.6,"y":0.00025},{"x":86,"y":0.0001},{"x":88,"y":0.000044},{"x":89.6,"y":0.000016}]
},
"columns": 3,
"spacing": {"row": 0, "column": 13},
"bounds": "flush",
"concat": [
 {"width":174,"height":216,"resolve":{"axis":{"x":"independent","y":"independent"}},"layer":[
  {"data":{"name":"a"},"mark":{"type":"line","color":"black","strokeWidth":1,"clip":true},"encoding":{
   "x":{"field":"x","type":"quantitative","scale":{"domain":[0,95]},"axis":{"orient":"bottom","values":[0,10,20,30,40,50,60,70,80,90],"labels":false,"title":null}},
   "y":{"field":"y","type":"quantitative","scale":{"type":"log","domain":[0.0001,100]},"axis":{"orient":"left","values":[0.0001,0.01,1,100],"labelExpr":"datum.value > 50 ? '10²' : datum.value > 0.5 ? '10⁰' : datum.value > 0.005 ? '10⁻²' : ''","labelPadding":35,"title":null}}}},
  {"data":{"name":"da"},"mark":{"type":"line","color":"black","strokeWidth":1.6,"strokeDash":[6,3],"clip":true},"encoding":{
   "x":{"field":"x","type":"quantitative","axis":{"orient":"top","values":[0,10,20,30,40,50,60,70,80,90],"labels":false,"title":null}},
   "y":{"field":"y","type":"quantitative","axis":{"orient":"right","values":[0.0001,0.01,1,100],"labels":false,"title":null}}}},
  {"data":{"values":[{}]},"mark":{"type":"text","align":"left","baseline":"middle","fontSize":18},"encoding":{"x":{"datum":7.7,"axis":null},"y":{"datum":20,"axis":null},"text":{"value":"(a) 2D, θ=30°"}}}
 ]},
 {"width":174,"height":216,"resolve":{"axis":{"x":"independent","y":"independent"}},"layer":[
  {"data":{"name":"c"},"mark":{"type":"line","color":"black","strokeWidth":1,"clip":true},"encoding":{
   "x":{"field":"x","type":"quantitative","scale":{"domain":[0,95]},"axis":{"orient":"bottom","values":[0,10,20,30,40,50,60,70,80,90],"labels":false,"title":null}},
   "y":{"field":"y","type":"quantitative","scale":{"type":"log","domain":[0.0001,100]},"axis":{"orient":"left","values":[0.0001,0.01,1,100],"labels":false,"title":null}}}},
  {"data":{"name":"dc"},"mark":{"type":"line","color":"black","strokeWidth":1.6,"strokeDash":[6,3],"clip":true},"encoding":{
   "x":{"field":"x","type":"quantitative","axis":{"orient":"top","values":[0,10,20,30,40,50,60,70,80,90],"labels":false,"title":null}},
   "y":{"field":"y","type":"quantitative","axis":{"orient":"right","values":[0.0001,0.01,1,100],"labels":false,"title":null}}}},
  {"data":{"values":[{}]},"mark":{"type":"text","align":"left","baseline":"middle","fontSize":18},"encoding":{"x":{"datum":13.2,"axis":null},"y":{"datum":20,"axis":null},"text":{"value":"(c) 2D, θ=40°"}}}
 ]},
 {"width":174,"height":216,"resolve":{"axis":{"x":"independent","y":"independent"}},"layer":[
  {"data":{"name":"e"},"mark":{"type":"line","color":"black","strokeWidth":1,"clip":true},"encoding":{
   "x":{"field":"x","type":"quantitative","scale":{"domain":[0,95]},"axis":{"orient":"bottom","values":[0,10,20,30,40,50,60,70,80,90],"labels":false,"title":null}},
   "y":{"field":"y","type":"quantitative","scale":{"type":"log","domain":[0.0001,100]},"axis":{"orient":"left","values":[0.0001,0.01,1,100],"labels":false,"title":null}}}},
  {"data":{"name":"de"},"mark":{"type":"line","color":"black","strokeWidth":1.6,"strokeDash":[6,3],"clip":true},"encoding":{
   "x":{"field":"x","type":"quantitative","axis":{"orient":"top","values":[0,10,20,30,40,50,60,70,80,90],"labels":false,"title":null}},
   "y":{"field":"y","type":"quantitative","axis":{"orient":"right","values":[0.0001,0.01,1,100],"labels":false,"title":null}}}},
  {"data":{"values":[{}]},"mark":{"type":"text","align":"left","baseline":"middle","fontSize":18},"encoding":{"x":{"datum":17.5,"axis":null},"y":{"datum":20,"axis":null},"text":{"value":"(e) 2D, θ=50°"}}}
 ]},
 {"width":174,"height":216,"resolve":{"axis":{"x":"independent","y":"independent"}},"layer":[
  {"data":{"name":"b"},"mark":{"type":"line","color":"black","strokeWidth":1,"clip":true},"encoding":{
   "x":{"field":"x","type":"quantitative","scale":{"domain":[0,95]},"axis":{"orient":"bottom","values":[0,10,20,30,40,50,60,70,80,90],"labelExpr":"datum.value % 30 === 0 ? datum.label : ''","labelPadding":14,"title":"Harmonic order","titleFontSize":20,"titlePadding":3}},
   "y":{"field":"y","type":"quantitative","scale":{"type":"log","domain":[0.00001,10]},"axis":{"orient":"left","values":[0.0001,0.01,1],"labelExpr":"datum.value > 0.5 ? '10⁰' : datum.value > 0.005 ? '10⁻²' : datum.value > 0.00005 ? '10⁻⁴' : ''","labelPadding":35,"title":null}}}},
  {"data":{"name":"db"},"mark":{"type":"line","color":"black","strokeWidth":1.6,"strokeDash":[6,3],"clip":true},"encoding":{
   "x":{"field":"x","type":"quantitative","axis":{"orient":"top","values":[0,10,20,30,40,50,60,70,80,90],"labels":false,"title":null}},
   "y":{"field":"y","type":"quantitative","axis":{"orient":"right","values":[0.0001,0.01,1],"labels":false,"title":null}}}},
  {"data":{"values":[{}]},"mark":{"type":"text","align":"left","baseline":"middle","fontSize":18},"encoding":{"x":{"datum":8.2,"axis":null},"y":{"datum":2,"axis":null},"text":{"value":"(b) 3D, θ=30°"}}}
 ]},
 {"width":174,"height":216,"resolve":{"axis":{"x":"independent","y":"independent"}},"layer":[
  {"data":{"name":"d"},"mark":{"type":"line","color":"black","strokeWidth":1,"clip":true},"encoding":{
   "x":{"field":"x","type":"quantitative","scale":{"domain":[0,95]},"axis":{"orient":"bottom","values":[0,10,20,30,40,50,60,70,80,90],"labelExpr":"datum.value % 30 === 0 ? datum.label : ''","labelPadding":14,"title":"Harmonic order","titleFontSize":20,"titlePadding":3}},
   "y":{"field":"y","type":"quantitative","scale":{"type":"log","domain":[0.00001,10]},"axis":{"orient":"left","values":[0.0001,0.01,1],"labels":false,"title":null}}}},
  {"data":{"name":"dd"},"mark":{"type":"line","color":"black","strokeWidth":1.6,"strokeDash":[6,3],"clip":true},"encoding":{
   "x":{"field":"x","type":"quantitative","axis":{"orient":"top","values":[0,10,20,30,40,50,60,70,80,90],"labels":false,"title":null}},
   "y":{"field":"y","type":"quantitative","axis":{"orient":"right","values":[0.0001,0.01,1],"labels":false,"title":null}}}},
  {"data":{"values":[{}]},"mark":{"type":"text","align":"left","baseline":"middle","fontSize":18},"encoding":{"x":{"datum":13.7,"axis":null},"y":{"datum":2,"axis":null},"text":{"value":"(d) 3D, θ=40°"}}}
 ]},
 {"width":174,"height":216,"resolve":{"axis":{"x":"independent","y":"independent"}},"layer":[
  {"data":{"name":"f"},"mark":{"type":"line","color":"black","strokeWidth":1,"clip":true},"encoding":{
   "x":{"field":"x","type":"quantitative","scale":{"domain":[0,95]},"axis":{"orient":"bottom","values":[0,10,20,30,40,50,60,70,80,90],"labelExpr":"datum.value % 30 === 0 ? datum.label : ''","labelPadding":14,"title":"Harmonic order","titleFontSize":20,"titlePadding":3}},
   "y":{"field":"y","type":"quantitative","scale":{"type":"log","domain":[0.00001,10]},"axis":{"orient":"left","values":[0.0001,0.01,1],"labels":false,"title":null}}}},
  {"data":{"name":"df"},"mark":{"type":"line","color":"black","strokeWidth":1.6,"strokeDash":[6,3],"clip":true},"encoding":{
   "x":{"field":"x","type":"quantitative","axis":{"orient":"top","values":[0,10,20,30,40,50,60,70,80,90],"labels":false,"title":null}},
   "y":{"field":"y","type":"quantitative","axis":{"orient":"right","values":[0.0001,0.01,1],"labels":false,"title":null}}}},
  {"data":{"values":[{}]},"mark":{"type":"text","align":"left","baseline":"middle","fontSize":18},"encoding":{"x":{"datum":18.6,"axis":null},"y":{"datum":2,"axis":null},"text":{"value":"(f) 3D, θ=50°"}}}
 ]}
],
"config": {
 "font": "Liberation Sans",
 "view": {"stroke": "black", "strokeWidth": 1.6},
 "axis": {"domain": false, "grid": false, "tickSize": -5, "tickWidth": 1.4, "tickColor": "black", "labelColor": "black", "titleColor": "black", "labelFont": "Liberation Sans", "titleFont": "Liberation Sans", "titleFontWeight": "normal", "labelFlush": false},
 "axisX": {"labelFontSize": 18},
 "axisY": {"labelFontSize": 16},
 "text": {"font": "Liberation Sans", "color": "black"}
}
}
